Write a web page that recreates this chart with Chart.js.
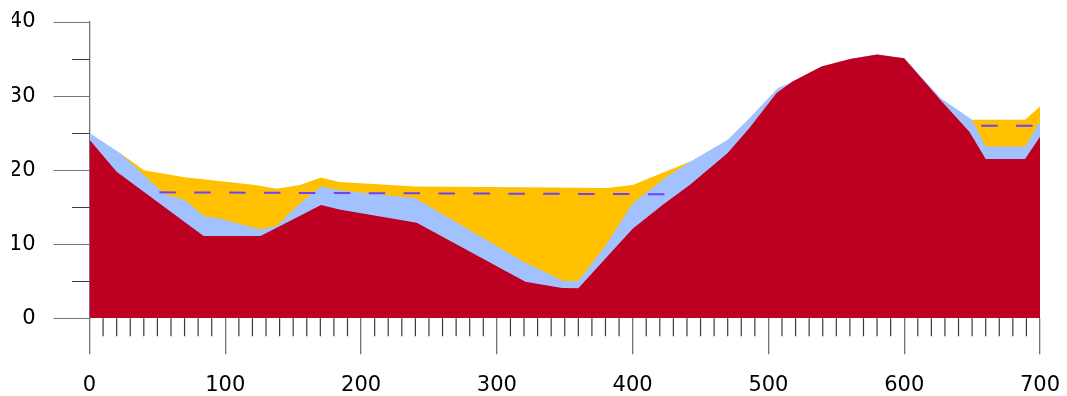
<!DOCTYPE html>
<html>
<head>
<meta charset="utf-8">
<script src="https://cdn.jsdelivr.net/npm/chart.js@4/dist/chart.umd.min.js"></script>
<style>
  html, body { margin: 0; padding: 0; background: #fff; }
  canvas { display: block; }
</style>
</head>
<body>
<canvas id="c" width="1067" height="396"></canvas>
<script>
// Ground profile (dark red)
const groundX = [0, 20, 84, 126, 170.5, 184, 241, 321, 348, 360, 400, 422, 442, 470, 486, 506, 518, 539, 560, 580, 600, 627, 648, 660, 689, 700];
const groundY = [24.1, 19.8, 11.1, 11.1, 15.3, 14.7, 12.9, 4.95, 4.1, 4.05, 12.1, 15.3, 18.0, 22.3, 25.7, 30.4, 32.0, 34.0, 35.0, 35.6, 35.1, 29.4, 25.2, 21.5, 21.5, 24.5];

// Lower band top (light blue)
const lowerX = [0, 22.5, 55.6, 70, 84, 95, 122, 126, 138, 155, 170.5, 184, 240, 320, 349, 360, 380, 400, 425, 443, 470, 486, 507, 533, 540, 560, 580, 600, 627, 650, 660, 689, 700];
const lowerY = [25.0, 22.3, 16.7, 16.0, 13.8, 13.5, 12.2, 12.0, 12.5, 15.5, 17.8, 17.3, 16.2, 7.6, 5.05, 5.05, 9.8, 15.5, 19.1, 21.2, 24.1, 27.0, 31.1, 33.1, 34.0, 35.0, 35.6, 35.1, 29.7, 26.8, 23.2, 23.2, 26.6];

// Upper band top (yellow), two stretches
const upperLeftX = [22.5, 40, 70, 122, 138, 155, 170.5, 184, 240, 320, 381, 400, 443];
const upperLeftY = [22.3, 20.0, 19.05, 18.0, 17.5, 18.0, 19.0, 18.4, 17.8, 17.7, 17.6, 18.0, 21.2];
const upperRightX = [650, 689, 700];
const upperRightY = [26.8, 26.8, 28.6];

// Level lines (dashed)
const levelLeftX = [51.4, 430];
const levelLeftY = [17.0, 16.75];
const levelRightX = [631, 700];
const levelRightY = [26.0, 26.0];

// Axis ticks
const xMajorTicks = [0, 100, 200, 300, 400, 500, 600, 700];
const xMinorStep = 10;
const yMajorTicks = [0, 10, 20, 30, 40];
const yMinorTicks = [5, 15, 25, 35];

const pts = (xs, ys) => xs.map((x, i) => ({ x, y: ys[i] }));

const RED = '#BD0021';
const BLUE = '#A1C1FF';
const YELLOW = '#FFC000';
const DASH = '#7040FF';
const AXIS = '#737373';
const FONT = { family: "'DejaVu Sans', sans-serif", size: 21 };

const area = (data, color) => ({
  data, fill: 'origin', backgroundColor: color, borderColor: color,
  borderWidth: 0, pointRadius: 0, tension: 0
});
const level = (data) => ({
  data, fill: false, borderColor: DASH, borderWidth: 2,
  borderDash: [16.5, 18.4], pointRadius: 0, tension: 0
});

// Fixed axis box sizes, no extra overflow padding
const fixBox = (w, h) => s => {
  if (w !== null) s.width = w;
  if (h !== null) s.height = h;
  s.paddingLeft = s.paddingRight = s.paddingTop = s.paddingBottom = 0;
};

// Short minor tick marks along both axes
const minorTicks = {
  id: 'minorTicks',
  afterDraw(chart) {
    const { ctx, scales: { x, y } } = chart;
    ctx.save();
    ctx.strokeStyle = '#3a3a3a';
    ctx.lineWidth = 1.2;
    ctx.beginPath();
    for (let v = 0; v <= 700; v += xMinorStep) {
      if (xMajorTicks.includes(v)) continue;
      const px = x.getPixelForValue(v);
      ctx.moveTo(px, y.bottom);
      ctx.lineTo(px, y.bottom + 18);
    }
    ctx.stroke();
    ctx.lineWidth = 1;
    ctx.beginPath();
    for (const v of yMinorTicks) {
      const py = Math.round(y.getPixelForValue(v)) + 0.5;
      ctx.moveTo(x.left - 17.5, py);
      ctx.lineTo(x.left, py);
    }
    ctx.stroke();
    ctx.restore();
  }
};

new Chart(document.getElementById('c'), {
  type: 'line',
  data: {
    datasets: [
      area(pts(groundX, groundY), RED),
      level(pts(levelLeftX, levelLeftY)),
      level(pts(levelRightX, levelRightY)),
      area(pts(lowerX, lowerY), BLUE),
      area(pts(upperLeftX, upperLeftY), YELLOW),
      area(pts(upperRightX, upperRightY), YELLOW)
    ]
  },
  options: {
    responsive: false,
    animation: false,
    devicePixelRatio: 1,
    layout: { padding: { left: 12, right: 27, top: 22, bottom: 0 } },
    plugins: { legend: { display: false }, tooltip: { enabled: false } },
    scales: {
      x: {
        type: 'linear', min: 0, max: 700,
        afterBuildTicks: s => { s.ticks = xMajorTicks.map(v => ({ value: v })); },
        afterFit: fixBox(null, 77.7),
        ticks: { font: FONT, color: '#000', padding: 18.4, maxRotation: 0 },
        grid: { drawOnChartArea: false, tickLength: 36, color: AXIS, lineWidth: 1.3 },
        border: { display: false }
      },
      y: {
        min: 0, max: 40, z: 1,
        afterBuildTicks: s => { s.ticks = yMajorTicks.map(v => ({ value: v })); },
        afterFit: fixBox(77.5, null),
        ticks: { font: FONT, color: '#000', padding: 18 },
        grid: { drawOnChartArea: false, tickLength: 36, color: AXIS, lineWidth: 1 },
        border: { display: true, color: AXIS, width: 1.3 }
      }
    }
  },
  plugins: [minorTicks]
});
</script>
</body>
</html>
